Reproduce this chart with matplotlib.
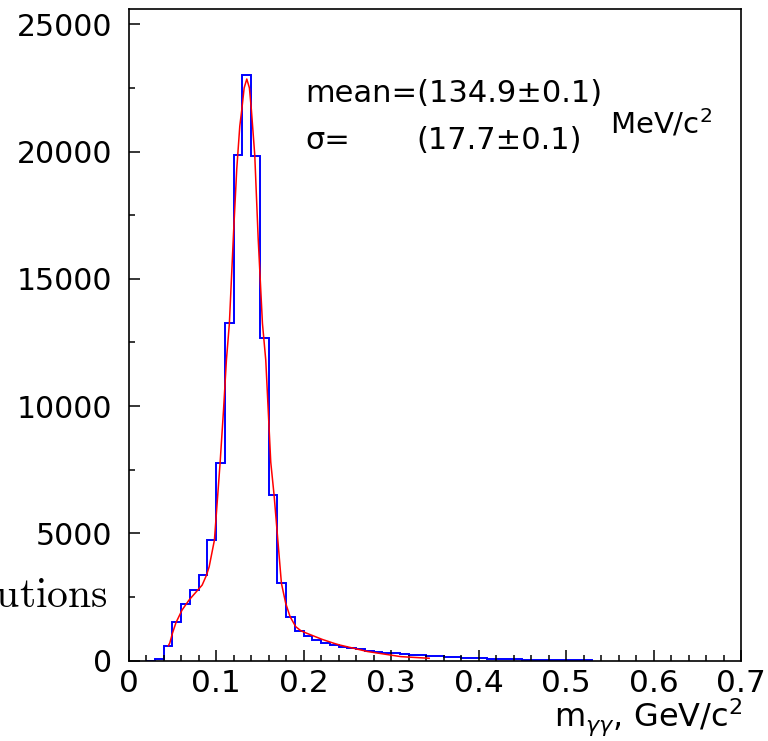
import numpy as np
import matplotlib
matplotlib.use("Agg")
import matplotlib.pyplot as plt
from matplotlib.ticker import MultipleLocator

plt.rcParams['font.family'] = ['DejaVu Sans']
plt.rcParams['mathtext.fontset'] = 'dejavusans'

# ---- data ----
bin_edges = np.round(np.linspace(0.02, 0.53, 52), 3)
counts = [0, 80, 590, 1505, 2237, 2787, 3375, 4740, 7785, 13250,
          19870, 23010, 19830, 12660, 6500, 3040, 1720, 1180, 980, 800,
          700, 615, 550, 490, 445, 395, 355, 315, 290, 265,
          240, 215, 190, 165, 145, 130, 115, 100, 88, 78,
          68, 60, 52, 45, 40, 34, 29, 24, 20, 15, 10]

fit_x = [0.0454, 0.047, 0.050, 0.054, 0.061, 0.069, 0.079, 0.084, 0.089, 0.092,
         0.098, 0.1045, 0.1085, 0.1117, 0.1151, 0.120, 0.1235, 0.127, 0.1292, 0.132,
         0.135, 0.138, 0.1403, 0.1441, 0.148, 0.1529, 0.1567, 0.1624, 0.1662, 0.1708,
         0.1746, 0.1795, 0.1845, 0.191, 0.1967, 0.2005, 0.221, 0.2349, 0.2413, 0.273,
         0.3111, 0.3435]
fit_y = [590, 700, 1076, 1492, 1990, 2383, 2776, 2972, 3365, 3691,
         4739, 7774, 9900, 11806, 13247, 16900, 19300, 21000, 21621, 22500,
         22850, 22500, 21621, 19867, 16600, 13247, 11806, 7800, 6506, 4609,
         3039, 2254, 1728, 1335, 1180, 1120, 840, 680, 616, 360,
         160, 95]

x_ticks = [0, 0.1, 0.2, 0.3, 0.4, 0.5, 0.6, 0.7]
x_tick_labels = ["0", "0.1", "0.2", "0.3", "0.4", "0.5", "0.6", "0.7"]
y_ticks = [0, 5000, 10000, 15000, 20000, 25000]
y_tick_labels = ["0", "5000", "10000", "15000", "20000", "25000"]

W, H = 768, 741
fig = plt.figure(figsize=(W / 100, H / 100), dpi=100)

def fx(px):
    return px / W

def fy(py):
    return 1 - py / H

ax = fig.add_axes([fx(128.7), fy(660.7), fx(741) - fx(128.7), fy(9) - fy(660.7)])
ax.stairs(counts, bin_edges, color='#0000ff', lw=1.4, baseline=0)
ax.plot(fit_x, fit_y, color='#ff0000', lw=1.1)

ax.set_xlim(0, 0.7)
ax.set_ylim(0, 25600)
ax.set_xticks(x_ticks)
ax.set_xticklabels(x_tick_labels)
ax.set_yticks(y_ticks)
ax.set_yticklabels(y_tick_labels)
ax.xaxis.set_minor_locator(MultipleLocator(0.02))
ax.yaxis.set_minor_locator(MultipleLocator(2500))
ax.tick_params(which='both', direction='in', top=False, right=False, width=1.1)
ax.tick_params(axis='y', labelsize=21.5, pad=12)
ax.tick_params(axis='x', labelsize=22.5, pad=6)
ax.tick_params(which='major', length=8)
ax.tick_params(which='minor', length=4)
for s in ax.spines.values():
    s.set_linewidth(1.2)

fig.text(fx(742), fy(727), r'm$_{\gamma\gamma}$, GeV/c$^2$', ha='right', va='baseline', fontsize=23)

fig.text(fx(305), fy(101.7), 'mean=(134.9\u00b10.1)', ha='left', va='baseline', fontsize=22)
fig.text(fx(305), fy(149), '\u03c3=', ha='left', va='baseline', fontsize=22)
fig.text(fx(416), fy(149), '(17.7\u00b10.1)', ha='left', va='baseline', fontsize=22)
fig.text(fx(610), fy(133), r'MeV/c$^2$', ha='left', va='baseline', fontsize=21)

fig.text(fx(108), fy(607), r'$\mathrm{Distributions}$', ha='right', va='baseline',
         fontsize=30, math_fontfamily='cm')

fig.savefig('out.png', dpi=100)
